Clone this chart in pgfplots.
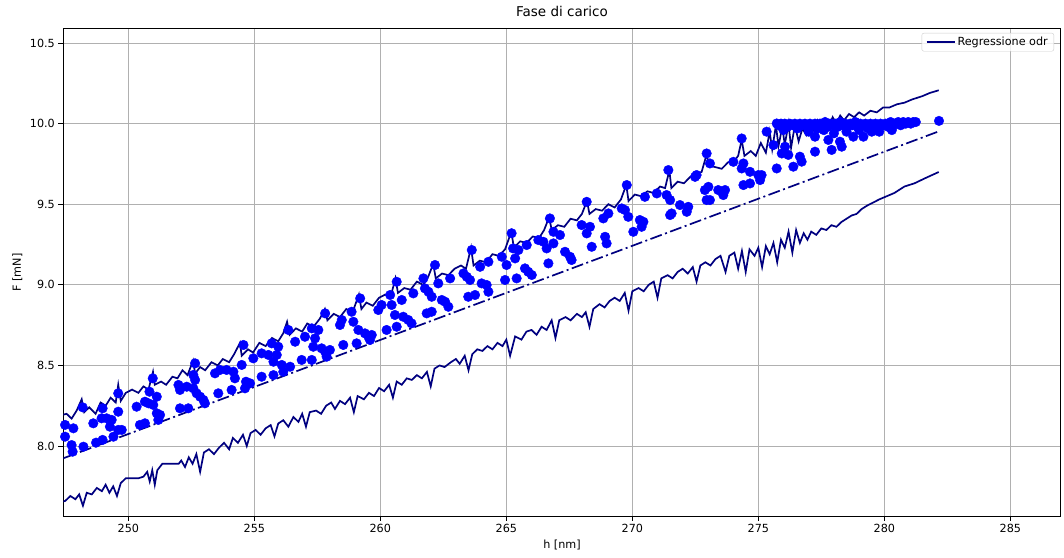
\documentclass[border=0pt]{standalone}
\usepackage{fontspec}
\setmainfont{DejaVu Sans}
\usepackage{pgfplots}
\pgfplotsset{compat=1.18}
\usetikzlibrary{calc}
\definecolor{mplgrid}{HTML}{B0B0B0}
\definecolor{navyc}{HTML}{000080}
\definecolor{bluec}{HTML}{0000FF}
\begin{document}
\begin{tikzpicture}
\begin{axis}[
  name=ax,
  scale only axis,
  width=997.4pt, height=487.3pt,
  xmin=247.42, xmax=287.0,
  ymin=7.566, ymax=10.589,
  xtick={250,255,260,265,270,275,280,285},
  xticklabels={250,255,260,265,270,275,280,285},
  ytick={8,8.5,9,9.5,10,10.5},
  yticklabels={8.0,8.5,9.0,9.5,10.0,10.5},
  grid=major,
  grid style={color=mplgrid, line width=0.8pt},
  axis line style={line width=0.8pt},
  tick style={black, line width=0.8pt},
  tick align=outside,
  major tick length=4.9pt,
  xtick pos=bottom, ytick pos=left,
  ticklabel style={font=\fontsize{11.2}{13}\selectfont},
  /pgf/number format/assume math mode=true,
  title={Fase di carico},
  title style={font=\fontsize{13.5}{16}\selectfont, at={(axis description cs:0.5,1)}, anchor=base, yshift=6pt},
  xlabel={h [nm]}, ylabel={F [mN]},
  xlabel style={font=\fontsize{11.2}{13}\selectfont, at={(axis description cs:0.5,0)}, anchor=base, yshift=-33pt},
  ylabel style={font=\fontsize{11.2}{13}\selectfont, at={(axis description cs:0,0.5)}, anchor=center, yshift=46pt},
  legend style={at={(1,1)}, anchor=north east, xshift=-6.7pt, yshift=-4.3pt, draw=black!20, rounded corners=2pt, fill=white, fill opacity=0.8, text opacity=1, font=\fontsize{11.2}{13}\selectfont, inner xsep=4pt, inner ysep=2pt},
  legend cell align=left,
  legend image code/.code={\draw[#1] (0pt,0pt) -- (28pt,0pt);},
]
% scatter data
\addplot[only marks, mark=*, mark size=4.8pt, color=bluec, forget plot] coordinates {
(248.19,8.240) (247.49,8.131) (247.49,8.058) (247.82,8.110) (247.75,8.006) (247.79,7.965) (248.22,7.996) (248.61,8.141)
(248.72,8.021) (248.98,8.038) (248.98,8.234) (248.94,8.172) (249.14,8.172) (249.34,8.162) (249.27,8.120) (249.41,8.058)
(249.60,8.100) (249.74,8.100) (249.60,8.213) (249.60,8.327) (250.33,8.244) (250.46,8.131) (250.66,8.141) (250.66,8.275)
(250.84,8.337) (250.80,8.265) (250.99,8.255) (251.13,8.306) (251.13,8.203) (251.26,8.193) (251.19,8.162) (250.97,8.420)
(251.99,8.379) (252.05,8.348) (252.05,8.234) (252.38,8.234) (252.32,8.368) (252.58,8.358) (252.58,8.441) (252.65,8.410)
(252.71,8.327) (252.85,8.306) (252.98,8.286) (253.04,8.265) (252.65,8.513) (253.57,8.327) (253.44,8.451) (253.64,8.472)
(253.90,8.472) (254.17,8.461) (254.23,8.420) (254.10,8.348)
(254.50,8.503) (254.57,8.627) (254.96,8.544) (254.67,8.399) (254.83,8.389) (254.63,8.358) (255.29,8.575) (255.56,8.565)
(255.89,8.565) (255.95,8.616) (255.69,8.637) (255.76,8.523) (255.29,8.430) (255.76,8.440) (256.09,8.503) (256.15,8.461)
(256.42,8.492) (256.35,8.720) (256.62,8.647) (256.88,8.534) (257.01,8.678) (257.28,8.534) (257.34,8.616) (257.41,8.668)
(257.54,8.720) (257.28,8.730) (257.67,8.606) (257.81,8.585) (257.87,8.554) (258.00,8.596) (257.81,8.823) (258.40,8.751)
(258.47,8.782) (258.53,8.627) (258.86,8.833) (258.93,8.771) (259.06,8.637) (259.13,8.720) (259.20,8.916) (259.39,8.699)
(259.53,8.678) (259.66,8.689) (259.59,8.658) (259.92,8.844) (260.05,8.875) (260.25,8.720) (260.39,8.937) (260.45,8.875)
(260.58,8.813) (260.65,8.740) (260.65,9.019) (260.85,8.906) (260.91,8.802) (261.11,8.782) (261.24,8.761) (261.31,8.947)
(261.71,9.040) (261.77,8.978) (261.91,8.957) (262.04,8.926) (261.84,8.823) (262.04,8.833) (262.17,9.123) (262.30,9.009)
(262.44,8.906) (262.57,8.895) (262.70,8.864) (262.77,9.040) (263.30,9.071) (263.43,9.050) (263.56,9.030) (263.49,8.926)
(263.76,8.937) (263.63,9.216) (263.96,9.112) (264.02,9.009) (264.22,8.999) (264.29,8.957) (264.29,9.143) (264.82,9.174)
(265.01,9.123) (264.95,9.030) (265.21,9.320) (265.27,9.226) (265.35,9.164) (265.41,9.040) (265.48,9.216) (265.81,9.247)
(265.74,9.102) (265.87,9.081) (266.01,9.061) (266.27,9.278) (266.47,9.267) (266.60,9.226) (266.67,9.133) (266.73,9.412)
(266.87,9.257) (266.87,9.329) (267.13,9.309) (267.33,9.205) (267.53,9.174) (267.59,9.154) (267.99,9.371) (268.19,9.515)
(268.19,9.319) (268.32,9.360) (268.39,9.236)
(268.85,9.412) (269.05,9.443) (268.92,9.298) (268.98,9.257) (269.58,9.474) (269.71,9.464) (269.84,9.422) (269.78,9.619)
(270.04,9.329) (270.30,9.402) (270.44,9.391) (270.37,9.360) (270.50,9.546) (270.97,9.567) (271.36,9.557) (271.50,9.526)
(271.43,9.712) (271.50,9.433) (271.56,9.443) (271.89,9.495) (272.22,9.484) (272.16,9.453) (272.49,9.670) (272.55,9.681)
(272.88,9.588) (272.95,9.526) (273.08,9.526) (272.95,9.815) (273.02,9.608) (273.08,9.753) (273.41,9.588) (273.68,9.588)
(273.61,9.557) (274.01,9.763) (274.34,9.908) (274.34,9.722) (274.41,9.753) (274.41,9.619) (274.67,9.701) (274.67,9.629)
(275.00,9.681) (275.13,9.681) (275.07,9.650) (275.33,9.950) (275.60,9.867) (275.73,10.001) (275.73,9.722) (275.93,9.815)
(276.00,9.960)
(276.06,9.857) (276.19,9.806) (276.39,9.733) (276.65,9.795) (276.72,9.764) (277.25,9.919) (277.25,9.826) (277.78,9.899)
(277.91,9.837) (278.24,9.888) (278.31,9.857) (278.77,9.919) (279.17,9.919) (279.50,9.950)
(275.80,9.99) (275.90,10.00) (276.05,10.00) (276.15,9.98) (276.25,10.00) (276.35,9.99) (276.45,10.00) (276.55,9.97)
(276.65,10.00) (276.75,9.99) (276.85,10.00) (276.95,9.98) (277.05,10.00) (277.15,9.99) (277.25,10.00) (277.35,9.97)
(277.45,10.00) (277.55,9.99) (277.65,10.01) (277.75,9.98) (277.85,10.00) (277.95,9.99) (278.05,10.00) (278.15,9.98)
(278.25,10.01) (278.35,9.99) (278.45,10.00) (278.55,9.98) (278.65,10.00) (278.75,9.99) (278.85,10.01) (278.95,9.98)
(279.05,10.00) (279.15,9.99) (279.25,10.00) (279.35,9.97) (279.45,10.00) (279.55,9.99) (279.65,10.00) (279.75,9.98)
(279.85,10.00) (279.95,9.99) (280.05,10.00) (280.15,9.98) (280.25,10.01) (280.35,9.99) (280.45,10.00) (280.55,10.01)
(280.65,9.99) (280.75,10.01) (280.85,10.00) (280.95,10.01) (281.05,10.00) (281.15,10.01) (281.25,10.01)
(277.00,9.95) (277.60,9.96) (278.00,9.94) (278.50,9.95) (279.00,9.96) (279.80,9.95) (280.30,9.96) (282.17,10.017)
};
% upper band
\addplot[navyc, line width=1.7pt] coordinates {
(247.30,8.19) (247.55,8.20) (247.75,8.17) (247.95,8.22) (248.15,8.29) (248.25,8.21) (248.45,8.24) (248.70,8.20)
(248.90,8.27) (249.10,8.25) (249.30,8.30) (249.50,8.27) (249.60,8.38) (249.70,8.28) (249.90,8.33) (250.15,8.35)
(250.40,8.33) (250.60,8.37) (250.80,8.35) (250.98,8.46) (251.05,8.38) (251.30,8.40) (251.50,8.38) (251.75,8.43)
(251.95,8.42) (252.15,8.47) (252.35,8.44) (252.57,8.53) (252.65,8.45) (252.85,8.49) (253.05,8.47) (253.30,8.52)
(253.55,8.50) (253.75,8.54) (254.00,8.52) (254.20,8.57) (254.43,8.64) (254.50,8.56) (254.75,8.60) (254.95,8.58)
(255.20,8.64) (255.45,8.62) (255.70,8.67) (255.95,8.65) (256.15,8.70) (256.30,8.77) (256.40,8.69) (256.65,8.73)
(256.90,8.71) (257.10,8.76) (257.35,8.74) (257.60,8.79) (257.80,8.85) (257.90,8.78) (258.15,8.82) (258.40,8.80)
(258.65,8.85) (258.90,8.83) (259.15,8.94) (259.25,8.85) (259.45,8.89) (259.70,8.87) (259.95,8.92) (260.20,8.94)
(260.40,8.92) (260.60,9.04) (260.70,8.95) (260.95,8.98) (261.20,8.97) (261.45,9.02) (261.70,9.00) (261.90,9.05)
(262.10,9.13) (262.20,9.04) (262.45,9.07) (262.70,9.06) (262.95,9.10) (263.20,9.12) (263.40,9.10) (263.60,9.23)
(263.70,9.12) (263.95,9.15) (264.20,9.14) (264.45,9.19) (264.70,9.18) (264.95,9.22) (265.20,9.33) (265.30,9.23)
(265.55,9.27) (265.80,9.26) (266.05,9.30) (266.30,9.29) (266.50,9.34) (266.70,9.42) (266.80,9.34) (267.05,9.37)
(267.30,9.36) (267.55,9.41) (267.80,9.40) (268.00,9.44) (268.20,9.52) (268.30,9.44) (268.55,9.47) (268.80,9.46)
(269.05,9.50) (269.30,9.48) (269.55,9.53) (269.76,9.62) (269.85,9.52) (270.10,9.56) (270.35,9.55) (270.60,9.58)
(270.85,9.57) (271.10,9.61) (271.30,9.60) (271.47,9.71) (271.55,9.60) (271.80,9.64) (272.05,9.63) (272.30,9.67)
(272.55,9.69) (272.75,9.70) (272.95,9.81) (273.05,9.74) (273.30,9.73) (273.55,9.72) (273.80,9.76) (274.05,9.77)
(274.20,9.80) (274.34,9.90) (274.45,9.80) (274.70,9.83) (274.90,9.80) (275.10,9.88) (275.30,9.82) (275.45,9.95)
(275.55,9.84) (275.70,9.99) (275.80,9.86) (275.95,9.98) (276.05,9.87) (276.20,10.00) (276.30,9.85) (276.45,9.99)
(276.60,9.89) (276.75,9.97) (276.90,9.93) (277.05,10.01) (277.20,9.96) (277.35,10.02) (277.50,9.97) (277.65,10.03)
(277.80,9.98) (277.95,10.04) (278.10,10.00) (278.25,10.05) (278.40,10.02) (278.60,10.06) (278.80,10.04) (279.00,10.07)
(279.20,10.05) (279.45,10.08) (279.70,10.07) (279.95,10.10) (280.20,10.10) (280.50,10.12) (280.80,10.13) (281.10,10.15)
(281.50,10.17) (281.80,10.19) (282.16,10.207)
};
\addlegendentry{Regressione odr}
% regression line
\addplot[navyc, line width=1.7pt, dash pattern=on 12pt off 3.5pt on 2pt off 3.5pt, forget plot] coordinates {
(247.30,7.917) (282.16,9.952)
};
% lower band
\addplot[navyc, line width=1.7pt, forget plot] coordinates {
(247.30,7.65) (247.50,7.66) (247.70,7.69) (247.90,7.67) (248.05,7.70) (248.20,7.63) (248.35,7.71) (248.55,7.70)
(248.75,7.74) (248.95,7.72) (249.10,7.76) (249.25,7.71) (249.40,7.75) (249.55,7.69) (249.70,7.77) (249.90,7.80)
(250.10,7.80) (250.40,7.80) (250.60,7.81) (250.75,7.84) (250.85,7.78) (250.95,7.85) (251.05,7.76) (251.15,7.85)
(251.35,7.89) (251.70,7.89) (252.00,7.89) (252.10,7.91) (252.25,7.87) (252.40,7.93) (252.55,7.89) (252.70,7.95)
(252.85,7.84) (253.00,7.96) (253.20,7.98) (253.40,7.95) (253.60,7.99) (253.80,8.02) (254.00,7.98) (254.15,8.05)
(254.35,8.02) (254.55,8.07) (254.70,8.00) (254.85,8.08) (255.05,8.10) (255.25,8.07) (255.45,8.11) (255.65,8.13)
(255.80,8.06) (255.95,8.14) (256.15,8.16) (256.35,8.12) (256.55,8.18) (256.75,8.15) (256.90,8.20) (257.05,8.12)
(257.20,8.21) (257.45,8.22) (257.65,8.20) (257.85,8.25) (258.05,8.27) (258.20,8.23) (258.40,8.28) (258.60,8.26)
(258.80,8.30) (258.95,8.21) (259.10,8.31) (259.35,8.29) (259.55,8.33) (259.75,8.31) (259.95,8.36) (260.15,8.34)
(260.35,8.38) (260.50,8.30) (260.65,8.40) (260.85,8.38) (261.05,8.42) (261.25,8.41) (261.45,8.44) (261.65,8.42)
(261.85,8.46) (262.00,8.37) (262.15,8.48) (262.35,8.50) (262.55,8.49) (262.80,8.52) (263.00,8.54) (263.15,8.51)
(263.35,8.56) (263.50,8.47) (263.65,8.57) (263.85,8.60) (264.05,8.59) (264.25,8.62) (264.45,8.60) (264.65,8.64)
(264.85,8.62) (265.00,8.66) (265.15,8.56) (265.35,8.68) (265.60,8.66) (265.80,8.71) (266.00,8.72) (266.20,8.69)
(266.40,8.74) (266.60,8.72) (266.80,8.78) (266.95,8.67) (267.10,8.78) (267.35,8.80) (267.55,8.78) (267.80,8.82)
(268.00,8.80) (268.15,8.83) (268.30,8.74) (268.45,8.85) (268.70,8.88) (268.90,8.86) (269.10,8.90) (269.30,8.92)
(269.50,8.90) (269.70,8.95) (269.85,8.84) (270.00,8.96) (270.25,8.98) (270.45,8.96) (270.65,9.00) (270.85,9.02)
(271.00,8.92) (271.15,9.04) (271.40,9.06) (271.60,9.04) (271.80,9.08) (272.00,9.10) (272.20,9.07) (272.40,9.11)
(272.55,9.02) (272.70,9.12) (272.90,9.14) (273.10,9.12) (273.30,9.16) (273.50,9.18) (273.70,9.08) (273.85,9.18)
(274.05,9.20) (274.20,9.10) (274.35,9.21) (274.50,9.08) (274.65,9.22) (274.85,9.18) (275.00,9.23) (275.15,9.11)
(275.30,9.24) (275.45,9.19) (275.60,9.26) (275.75,9.14) (275.90,9.28) (276.05,9.23) (276.20,9.33) (276.35,9.20)
(276.50,9.34) (276.65,9.26) (276.80,9.32) (276.95,9.28) (277.10,9.33) (277.30,9.31) (277.50,9.35) (277.70,9.34)
(277.90,9.37) (278.10,9.36) (278.30,9.39) (278.50,9.41) (278.70,9.43) (278.90,9.44) (279.10,9.47) (279.30,9.49)
(279.55,9.51) (279.80,9.53) (280.10,9.55) (280.40,9.57) (280.80,9.61) (281.20,9.63) (281.60,9.66) (282.16,9.70)
};
\end{axis}
\pgfresetboundingbox
\useasboundingbox ($(ax.south west)+(-63.3pt,-42pt)$) rectangle ($(ax.north east)+(3.3pt,28.7pt)$);
\end{tikzpicture}
\end{document}
